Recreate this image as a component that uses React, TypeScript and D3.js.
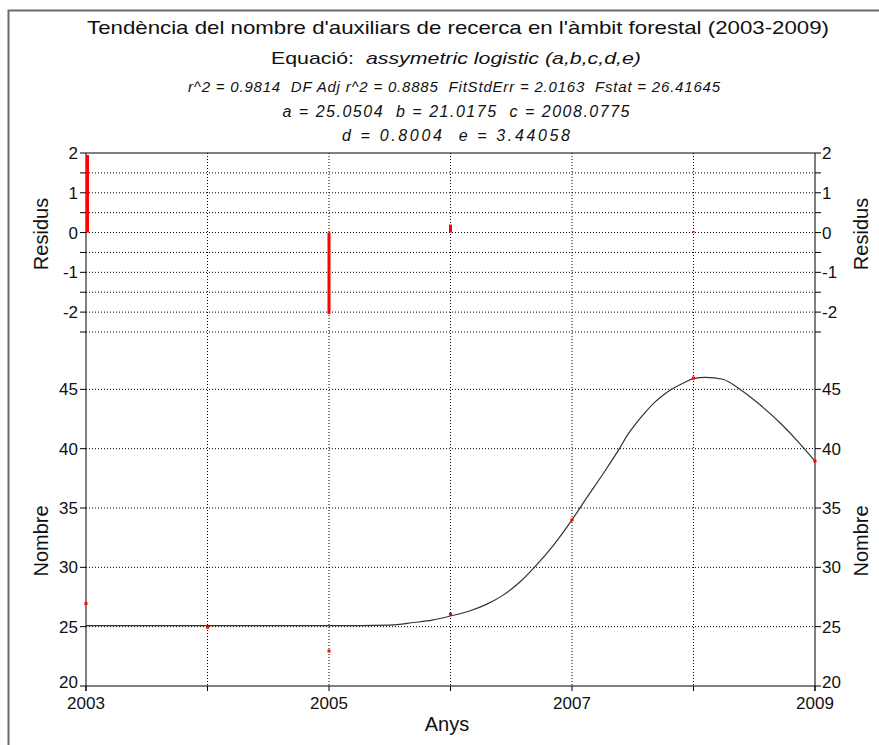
import React from "react";
import * as d3 from "d3";

const years = [2003, 2004, 2005, 2006, 2007, 2008, 2009];
const observed = [26.95, 24.95, 22.95, 26.05, 34.0, 45.95, 38.95];
const residuals = [1.95, 0, -2.05, 0.2, 0, 0.03, 0];
const curveYears = [2003, 2004, 2005, 2005.5, 2005.7, 2005.85, 2006, 2006.15, 2006.3, 2006.44, 2006.58, 2006.69, 2006.85, 2007, 2007.13, 2007.27, 2007.39, 2007.46, 2007.54, 2007.61, 2007.68, 2007.75, 2007.82, 2007.93, 2008.0, 2008.1, 2008.24, 2008.39, 2008.53, 2008.72, 2008.86, 2009];
const curveValues = [25.08, 25.08, 25.08, 25.13, 25.35, 25.55, 25.9, 26.3, 26.9, 27.7, 28.85, 30.0, 31.9, 34.0, 36.0, 38.1, 40.0, 41.2, 42.3, 43.15, 43.9, 44.5, 45.0, 45.6, 45.9, 46.0, 45.85, 44.95, 43.85, 42.1, 40.6, 38.95];
const xLabelYears = [2003, 2005, 2007, 2009];
const residTickLabels = [2, 1, 0, -1, -2];
const residMinor = [2, 1.5, 1, 0.5, 0, -0.5, -1, -1.5, -2, -2.5];
const mainTicks = [20, 25, 30, 35, 40, 45];

const titleLines = {
  title: "Tendència del nombre d'auxiliars de recerca en l'àmbit forestal (2003-2009)",
  eqPrefix: "Equació:  ",
  eqName: "assymetric logistic (a,b,c,d,e)",
  stats: "r^2 = 0.9814  DF Adj r^2 = 0.8885  FitStdErr = 2.0163  Fstat = 26.41645",
  params1: "a = 25.0504  b = 21.0175  c = 2008.0775",
  params2: "d = 0.8004  e = 3.44058",
};

const FONT = "'Liberation Sans', Arial, sans-serif";

export default function App() {
  const W = 879, H = 745;
  const left = 86, right = 815;
  const topR = 153, bottom = 686;
  const x = d3.scaleLinear().domain([2003, 2009]).range([left, right]);
  const yR = d3.scaleLinear().domain([-2.5, 2]).range([332, topR]);
  const yM = d3.scaleLinear().domain([20, 50]).range([bottom, 330]);

  const line = d3
    .line<number>()
    .x((_, i) => x(curveYears[i]))
    .y((v) => yM(v))
    .curve(d3.curveMonotoneX);

  const dotted = { stroke: "#000", strokeWidth: 1, strokeDasharray: "1 2" };
  const cx = 456;
  const pre = { whiteSpace: "pre" as const };

  return (
    <div style={{ position: "absolute", left: 0, top: 0 }}>
      <svg width={W} height={H} style={{ display: "block", background: "#fff" }} fontFamily={FONT} fill="#111">
        {/* frame */}
        <path d={`M8.5,${H} V10.5 H${W}`} fill="none" stroke="#6a6a6a" strokeWidth={2} />

        {/* titles */}
        <text x={cx + 2} y={34} textAnchor="middle" fontSize={18.5} textLength={742} lengthAdjust="spacingAndGlyphs" style={pre}>
          {titleLines.title}
        </text>
        <text x={cx} y={64} textAnchor="middle" fontSize={16.5} textLength={370} lengthAdjust="spacingAndGlyphs" style={pre}>
          <tspan>{titleLines.eqPrefix}</tspan>
          <tspan fontStyle="italic">{titleLines.eqName}</tspan>
        </text>
        <text x={cx - 2} y={92} textAnchor="middle" fontSize={15} fontStyle="italic" textLength={532} lengthAdjust="spacing" style={pre}>
          {titleLines.stats}
        </text>
        <text x={cx} y={117} textAnchor="middle" fontSize={16} fontStyle="italic" textLength={347} lengthAdjust="spacing" style={pre}>
          {titleLines.params1}
        </text>
        <text x={cx} y={141} textAnchor="middle" fontSize={16} fontStyle="italic" textLength={228} lengthAdjust="spacing" style={pre}>
          {titleLines.params2}
        </text>

        {/* vertical grid */}
        {years.slice(1, -1).map((yr) => (
          <line key={"vg" + yr} x1={x(yr)} x2={x(yr)} y1={topR} y2={bottom} {...dotted} />
        ))}
        {/* residual horizontal grid */}
        {residMinor.filter((v) => v < 2).map((v) => (
          <line key={"rg" + v} x1={left} x2={right} y1={yR(v)} y2={yR(v)} {...dotted} />
        ))}
        {/* main horizontal grid */}
        {mainTicks.filter((v) => v > 20).map((v) => (
          <line key={"mg" + v} x1={left} x2={right} y1={yM(v)} y2={yM(v)} {...dotted} />
        ))}

        {/* axes lines */}
        <line x1={left} x2={right} y1={topR} y2={topR} stroke="#000" />
        <line x1={left} x2={right} y1={bottom} y2={bottom} stroke="#000" />
        <line x1={left} x2={left} y1={topR} y2={bottom + 5} stroke="#000" />
        <line x1={right} x2={right} y1={topR} y2={bottom + 5} stroke="#000" />

        {/* residual ticks */}
        {residMinor.map((v) => (
          <g key={"rt" + v}>
            <line x1={left - 6} x2={left} y1={yR(v)} y2={yR(v)} stroke="#000" />
            <line x1={right} x2={right + 6} y1={yR(v)} y2={yR(v)} stroke="#000" />
          </g>
        ))}
        {residTickLabels.map((v) => (
          <g key={"rl" + v} fontSize={17}>
            <text x={left - 8} y={yR(v)} dy="0.36em" textAnchor="end">{v}</text>
            <text x={right + 7} y={yR(v)} dy="0.36em" textAnchor="start">{v}</text>
          </g>
        ))}

        {/* main ticks */}
        {mainTicks.map((v) => (
          <g key={"mt" + v}>
            <line x1={left - 6} x2={left} y1={yM(v)} y2={yM(v)} stroke="#000" />
            <line x1={right} x2={right + 6} y1={yM(v)} y2={yM(v)} stroke="#000" />
            <text x={left - 8} y={yM(v)} dy={v === 20 ? "0.1em" : "0.36em"} textAnchor="end" fontSize={17}>{v}</text>
            <text x={right + 7} y={yM(v)} dy={v === 20 ? "0.1em" : "0.36em"} textAnchor="start" fontSize={17}>{v}</text>
          </g>
        ))}

        {/* x ticks */}
        {years.map((yr) => (
          <line key={"xt" + yr} x1={x(yr)} x2={x(yr)} y1={bottom} y2={bottom + 5} stroke="#000" />
        ))}
        {xLabelYears.map((yr) => (
          <text key={"xl" + yr} x={x(yr)} y={709} textAnchor="middle" fontSize={17}>{yr}</text>
        ))}

        {/* axis titles */}
        <text x={447} y={731} textAnchor="middle" fontSize={20}>Anys</text>
        <text transform={`translate(48,234) rotate(-90)`} textAnchor="middle" fontSize={20}>Residus</text>
        <text transform={`translate(48,541) rotate(-90)`} textAnchor="middle" fontSize={20}>Nombre</text>
        <text transform={`translate(868,234) rotate(-90)`} textAnchor="middle" fontSize={20}>Residus</text>
        <text transform={`translate(868,541) rotate(-90)`} textAnchor="middle" fontSize={20}>Nombre</text>

        {/* residual bars */}
        {residuals.map((r, i) =>
          r === 0 ? null : (
            <rect
              key={"rb" + i}
              x={x(years[i]) - (i === 0 ? 0 : 1.5)}
              y={Math.min(yR(r), yR(0))}
              width={3}
              height={Math.max(1, Math.abs(yR(r) - yR(0)))}
              fill="#ff0000"
            />
          )
        )}

        {/* fitted curve */}
        <path d={line(curveValues) || ""} fill="none" stroke="#333" strokeWidth={1.2} />

        {/* observed points */}
        {observed.map((v, i) => (
          <rect key={"pt" + i} x={x(years[i]) - 1.5} y={yM(v) - 1.5} width={3} height={3} fill="#ff0000" />
        ))}
      </svg>
    </div>
  );
}
